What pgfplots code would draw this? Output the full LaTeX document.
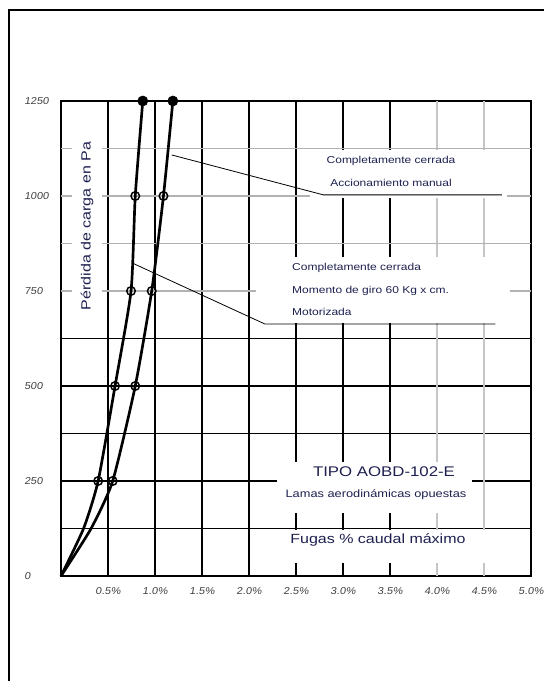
\documentclass[border=0pt]{standalone}
\usepackage{pgfplots}
\pgfplotsset{compat=1.18}
\usepackage{pgfplotstable}
\usepackage{fontspec}
\setmainfont{Liberation Sans}[FakeStretch=1.2]
\newfontfamily\tickfont{Liberation Sans}[FakeStretch=1.1,FakeSlant=0.15]
\definecolor{ink}{RGB}{30,32,80}

% leakage (% of max flow) vs pressure drop (Pa)
\pgfplotstableread{
F P
0 0
0.24 125
0.395 250
0.575 500
0.745 750
0.79 1000
0.87 1250
}\tabA
\pgfplotstableread{
F P
0 0
0.32 125
0.55 250
0.79 500
0.965 750
1.09 1000
1.19 1250
}\tabB

\begin{document}
\begin{tikzpicture}
\begin{axis}[
  scale only axis, width=352.5pt, height=356.25pt,
  xmin=0, xmax=5, ymin=0, ymax=1250,
  clip=false,
  axis line style={line width=1pt},
  grid=major, grid style={black, line width=0.9pt},
  major tick length=0pt,
  xtick={0,0.5,1,1.5,2,2.5,3,3.5,5},
  xticklabels={,0.5\%,1.0\%,1.5\%,2.0\%,2.5\%,3.0\%,3.5\%,5.0\%},
  extra x ticks={4,4.5},
  extra x tick labels={4.0\%,4.5\%},
  extra x tick style={grid style={gray!45, line width=1pt}},
  ytick={0,125,250,375,500,625,1250},
  yticklabels={0,,250,,500,,1250},
  extra y ticks={750,875,1000,1125},
  extra y tick labels={750,,1000,},
  extra y tick style={grid style={gray!60, line width=1.1pt}},
  xticklabel style={font=\tickfont\fontsize{7.5}{9}\selectfont, text=black!75, yshift=-5pt},
  yticklabel style={font=\tickfont\fontsize{7.5}{9}\selectfont, text=black!75, anchor=west, xshift=-31pt},
]
% white panels behind the texts
\fill[white] (axis cs:0.117,687) rectangle (axis cs:0.436,1155);
\fill[white] (axis cs:2.649,994.5) rectangle (axis cs:4.745,1121);
\fill[white] (axis cs:2.074,666) rectangle (axis cs:4.777,839);
\fill[white] (axis cs:2.298,166) rectangle (axis cs:4.372,300);
\fill[white] (axis cs:2.07,34) rectangle (axis cs:4.72,122);

\addplot[black, line width=2pt, smooth, tension=0.35] table[x=F,y=P] {\tabA};
\addplot[black, line width=2pt, smooth, tension=0.35] table[x=F,y=P] {\tabB};
\addplot[only marks, mark=o, mark size=3.2pt, line width=1.1pt, black,
  skip coords between index={0}{2}, skip coords between index={6}{7}] table[x=F,y=P] {\tabA};
\addplot[only marks, mark=o, mark size=3.2pt, line width=1.1pt, black,
  skip coords between index={0}{2}, skip coords between index={6}{7}] table[x=F,y=P] {\tabB};
\addplot[only marks, mark=*, mark size=3.8pt, black,
  skip coords between index={0}{6}] table[x=F,y=P] {\tabA};
\addplot[only marks, mark=*, mark size=3.8pt, black,
  skip coords between index={0}{6}] table[x=F,y=P] {\tabB};

% leader lines
\draw[line width=0.6pt] (axis cs:1.178,1108) -- (axis cs:2.79,1003) -- (axis cs:4.69,1003);
\draw[line width=0.6pt] (axis cs:0.755,824) -- (axis cs:2.17,663) -- (axis cs:4.62,663);

\node[ink, font=\fontsize{7.5}{9}\selectfont] at (axis cs:3.511,1092) {Completamente cerrada};
\node[ink, font=\fontsize{7.5}{9}\selectfont] at (axis cs:3.511,1034) {Accionamiento manual};
\node[ink, anchor=west, inner sep=0pt, font=\fontsize{7.5}{9}\selectfont] at (axis cs:2.457,810.5) {Completamente cerrada};
\node[ink, anchor=west, inner sep=0pt, font=\fontsize{7.5}{9}\selectfont] at (axis cs:2.457,750) {Momento de giro 60 Kg x cm.};
\node[ink, anchor=west, inner sep=0pt, font=\fontsize{7.5}{9}\selectfont] at (axis cs:2.457,694.7) {Motorizada};
\node[ink, font=\fontsize{10.5}{12}\selectfont] at (axis cs:3.436,273.7) {TIPO AOBD-102-E};
\node[ink, font=\fontsize{8}{10}\selectfont] at (axis cs:3.351,213) {Lamas aerodinámicas opuestas};
\node[ink, font=\fontsize{10}{12}\selectfont] at (axis cs:3.372,94.7) {Fugas \% caudal máximo};
\node[ink, rotate=90, font=\fontsize{10}{12}\selectfont] at (axis cs:0.277,921) {Pérdida de carga en Pa};
\end{axis}
% page frame
\draw[line width=1.2pt] (-39pt,-100pt) -- (-39pt,424.5pt) -- (420pt,424.5pt);
\pgfresetboundingbox
\path (-45.75pt,-78.75pt) rectangle (361.5pt,432pt);
\end{tikzpicture}
\end{document}
